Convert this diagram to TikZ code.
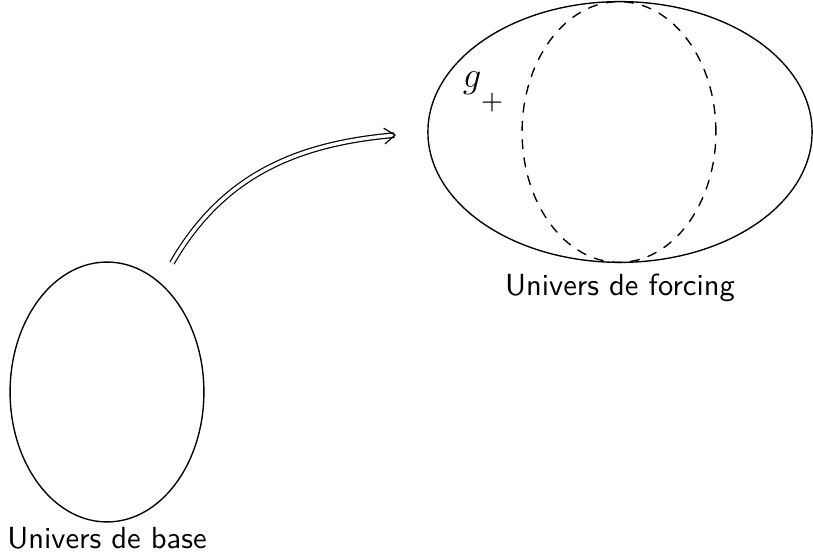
\documentclass[tikz,border=0pt]{standalone}
\usetikzlibrary{shapes.geometric,positioning,arrows.meta}

\tikzset{
  univers/.style={draw,ellipse,line width=0.45pt,inner sep=0pt},
  legende/.style={font=\sffamily},
  fleche/.style={double,double distance=1.1pt,line width=0.4pt,line cap=butt,
    -{Straight Barb[line width=0.4pt,length=3.5pt,width=5.2pt]}}
}

\begin{document}
\begin{tikzpicture}[x=0.0115cm,y=-0.0115cm,line cap=round,line join=round]
  \useasboundingbox (0,0) rectangle (813,557);
  % gauche : univers de base
  \node[univers,minimum width=2.23cm,minimum height=2.99cm] (base) at (107,392) {};
  \node[legende,below=-2pt of base] (baselab) {Univers de base};
  % droite : univers de forcing
  \node[univers,minimum width=4.42cm,minimum height=3.0cm] (forcing) at (620,132) {};
  \node[univers,dashed,minimum width=2.23cm,minimum height=3.0cm] (milieu) at (619,132) {};
  \node[legende,below=0pt of forcing] (forcinglab) {Univers de forcing};
  \node[font=\large] (g) at (472,83) {$g$};
  \node[font=\small] (plus) at (492,103) {$+$};
  % la fleche
  \coordinate (depart) at (172,263);
  \coordinate (arrivee) at (396,135);
  \draw[fleche] (depart) to[out=60,in=185] (arrivee);
\end{tikzpicture}
\end{document}
